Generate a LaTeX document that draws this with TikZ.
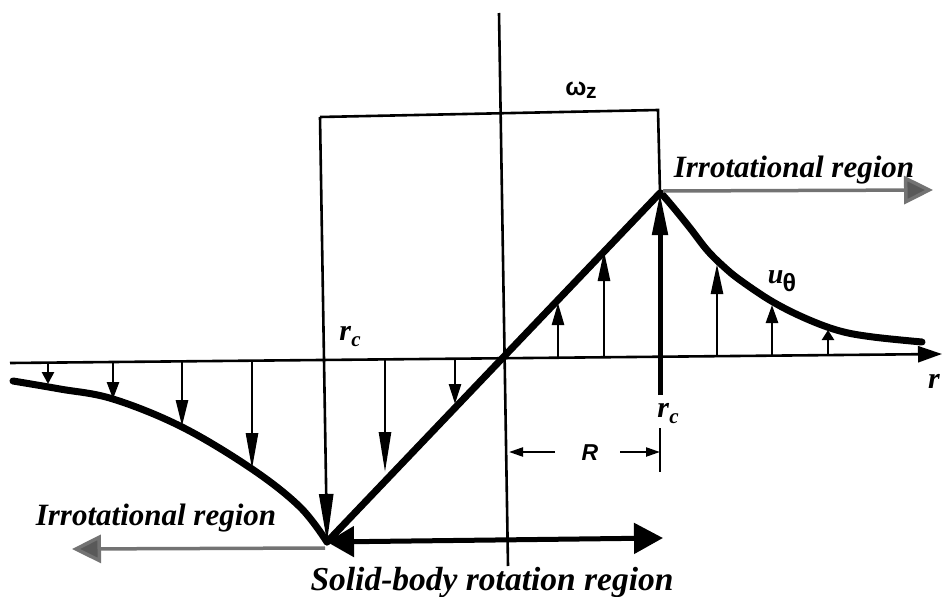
\documentclass[tikz,border=0pt]{standalone}
\usepackage{fontspec}
\setmainfont{Liberation Serif}
\setsansfont{Liberation Sans}
\usetikzlibrary{arrows.meta}
\begin{document}
\begin{tikzpicture}[x=1pt,y=-1pt,
  thinline/.style={line width=2.6pt},
  profile/.style={line width=7pt, line cap=round, line join=round},
  vec/.style={line width=2.6pt, -{Triangle[length=#1, width=12pt]}},
  bigvec/.style={line width=5pt, -{Triangle[length=#1, width=15pt]}},
  grayarrow/.style={line width=3.5pt, draw=black!55, -{Triangle[length=29pt, width=28pt, fill=black!65]}},
  region/.style={font=\fontsize{31}{34}\selectfont\bfseries\itshape, inner sep=0pt},
  lab/.style={inner sep=0pt}
]
\useasboundingbox (0,0) rectangle (943,597);
% key points
\coordinate (axtop) at (499,13);
\coordinate (axbot) at (508,566);
\coordinate (rl) at (10,363);
\coordinate (rr) at (942,354);
\coordinate (tl) at (320,117);
\coordinate (tr) at (658,110);
\coordinate (V) at (327,542);
\coordinate (P) at (660,193);
\coordinate (Pb) at (660,395);
\coordinate (Bend) at (663,538);
\coordinate (Lg) at (72,549);
\coordinate (Rg) at (933,190);
% axes
\draw[thinline] (axtop) -- (axbot);
\draw[thinline, -{Triangle[length=24pt,width=16pt]}] (rl) -- (rr);
% omega_z rectangle
\draw[thinline] (tl) -- (tr) -- (P);
\draw[thinline, -{Triangle[length=48pt,width=14pt]}] (tl) -- (V);
% profile
\draw[profile] plot[smooth, tension=0.6] coordinates {(13,381) (60,389) (113,399) (182,427) (252,469) (300,507) (327,542)};
\draw[profile] (V) -- (P);
\draw[profile] plot[smooth, tension=0.6] coordinates {(661,193) (673,207) (690,228) (707,250) (723,266) (740,280) (773,302) (807,319) (840,331) (873,337) (922,342)};
% velocity vectors, left side (downward)
\draw[vec=12pt] (48,362.6) -- (48,384);
\draw[vec=17pt] (113,362) -- (113,399);
\draw[vec=26pt] (182,361.3) -- (182,426);
\draw[vec=36pt] (252,360.7) -- (252,469);
\draw[vec=40pt] (385,359.4) -- (385,472);
\draw[vec=20pt] (455,358.7) -- (455,404);
% right side (upward)
\draw[vec=22pt] (558,357.6) -- (558,303);
\draw[vec=30pt] (604,357.1) -- (604,251);
\draw[bigvec=42pt] (Pb) -- (P);
\draw[vec=30pt] (717,356.2) -- (717,264);
\draw[vec=18pt] (772,355.6) -- (772,305);
\draw[vec=10pt] (828,355.1) -- (828,330);
% region arrows
\draw[line width=5pt, {Triangle[length=27pt,width=30pt]}-{Triangle[length=29pt,width=30pt]}] (V) -- (Bend);
\draw[grayarrow] (325,548) -- (Lg);
\draw[grayarrow] (663,191) -- (Rg);
% R dimension
\coordinate (tickT) at (660,428);
\coordinate (tickB) at (660,472);
\draw[thinline] (tickT) -- (tickB);
\draw[line width=2.2pt, -{Triangle[length=14pt,width=9pt]}] (555,452) -- (509,452);
\draw[line width=2.2pt, -{Triangle[length=14pt,width=9pt]}] (620,452) -- (tickB |- 0,452);
% labels
\node[region] (irrL) at (156,518) {Irrotational region};
\node[region] (irrR) at (794,170) {Irrotational region};
\node[region, font=\fontsize{33.5}{36}\selectfont\bfseries\itshape] (solid) at (492,582) {Solid-body rotation region};
\node[lab] (rcL) at (350,337) {\fontsize{30}{30}\selectfont\bfseries\itshape r\kern0.5pt\raisebox{-6pt}{\fontsize{21}{21}\selectfont c}};
\node[lab] (rcR) at (668,414) {\fontsize{30}{30}\selectfont\bfseries\itshape r\kern0.5pt\raisebox{-6pt}{\fontsize{21}{21}\selectfont c}};
\node[lab] (rlab) at (934,381) {\fontsize{30}{30}\selectfont\bfseries\itshape r};
\node[lab] (Rlab) at (590,453) {\fontsize{23}{23}\selectfont\sffamily\bfseries\itshape R};
\node[lab] (omz) at (581,90) {\fontsize{25}{25}\selectfont\sffamily\bfseries ω\kern-0.5pt\raisebox{-3pt}{\fontsize{21}{21}\selectfont z}};
\node[lab] (uth) at (782,281) {\fontsize{28}{28}\selectfont\bfseries\itshape u\kern-1pt\raisebox{-8pt}{\fontsize{25}{25}\selectfont\upshape\sffamily θ}};
\end{tikzpicture}
\end{document}
